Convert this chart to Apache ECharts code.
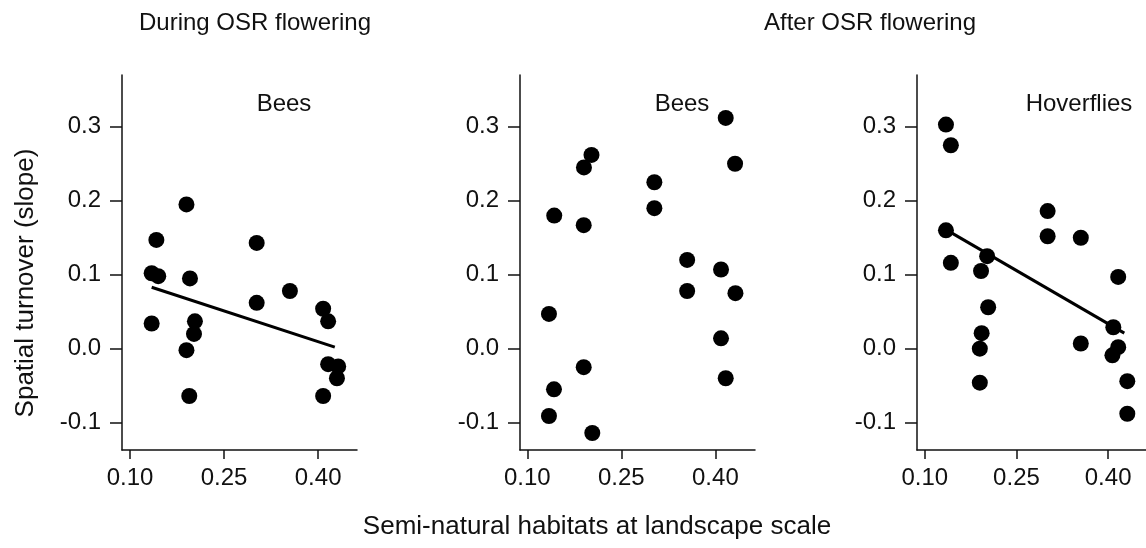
<!DOCTYPE html>
<html>
<head>
<meta charset="utf-8">
<script src="https://cdn.jsdelivr.net/npm/echarts@6/dist/echarts.min.js"></script>
<style>
html,body{margin:0;padding:0;background:#fff;}
#chart{width:1146px;height:548px;}
</style>
</head>
<body>
<div id="chart"></div>
<script>
// ---- Data ----
const xTicks = [0.10, 0.25, 0.40];
const yTicks = [-0.1, 0.0, 0.1, 0.2, 0.3];

const groupTitles = ["During OSR flowering", "After OSR flowering"];
const panelLabels = ["Bees", "Bees", "Hoverflies"];
const xTitle = "Semi-natural habitats at landscape scale";
const yTitle = "Spatial turnover (slope)";

// Panel 1: During OSR flowering, Bees
const duringBeesX = [0.190, 0.142, 0.1345, 0.145, 0.1345, 0.1956, 0.2035, 0.202, 0.190, 0.1945, 0.302, 0.302, 0.355, 0.408, 0.416, 0.416, 0.432, 0.430, 0.408];
const duringBeesY = [0.195, 0.147, 0.102, 0.098, 0.034, 0.095, 0.037, 0.020, -0.002, -0.064, 0.143, 0.062, 0.078, 0.054, 0.037, -0.021, -0.024, -0.040, -0.064];
const duringBeesFitX = [0.1345, 0.4266];
const duringBeesFitY = [0.083, 0.002];

// Panel 2: After OSR flowering, Bees
const afterBeesX = [0.4165, 0.4314, 0.2024, 0.1904, 0.143, 0.190, 0.3027, 0.3027, 0.355, 0.355, 0.409, 0.432, 0.409, 0.4165, 0.1346, 0.190, 0.1426, 0.1346, 0.2037];
const afterBeesY = [0.312, 0.250, 0.262, 0.245, 0.180, 0.167, 0.225, 0.190, 0.120, 0.078, 0.107, 0.075, 0.014, -0.040, 0.047, -0.025, -0.055, -0.091, -0.114];

// Panel 3: After OSR flowering, Hoverflies
const afterHoverX = [0.1346, 0.1426, 0.1346, 0.1426, 0.192, 0.202, 0.2037, 0.193, 0.190, 0.190, 0.301, 0.301, 0.3553, 0.3553, 0.4165, 0.4085, 0.4165, 0.407, 0.4314, 0.4314];
const afterHoverY = [0.303, 0.275, 0.160, 0.116, 0.105, 0.125, 0.056, 0.021, 0.000, -0.046, 0.186, 0.152, 0.150, 0.007, 0.097, 0.029, 0.002, -0.009, -0.044, -0.088];
const afterHoverFitX = [0.1346, 0.4265];
const afterHoverFitY = [0.161, 0.021];

// ---- Build ----
const FONT = "Liberation Sans, Arial, sans-serif";
const INK = "#111";
const zip = (xs, ys) => xs.map((x, i) => [x, ys[i]]);

const grids = [
  {left: 122, top: 75, width: 235, height: 375},
  {left: 520, top: 75, width: 235, height: 375},
  {left: 917, top: 75, width: 235, height: 375}
];
const xRanges = [[0.0872, 0.462], [0.0884, 0.4632], [0.0872, 0.462]];

const xAxes = grids.map((g, i) => ({
  type: 'value', gridIndex: i, min: xRanges[i][0], max: xRanges[i][1],
  splitLine: {show: false},
  axisLine: {show: true, onZero: false, lineStyle: {color: INK, width: 1.5}},
  axisTick: {show: true, length: 9, customValues: xTicks, lineStyle: {color: INK, width: 1.5}},
  axisLabel: {customValues: xTicks, margin: 16, color: INK, fontFamily: FONT, fontSize: 24,
    formatter: v => v.toFixed(2)}
}));
const yAxes = grids.map((g, i) => ({
  type: 'value', gridIndex: i, min: -0.137, max: 0.37,
  splitLine: {show: false},
  axisLine: {show: true, onZero: false, lineStyle: {color: INK, width: 1.5}},
  axisTick: {show: true, length: 12, customValues: yTicks, lineStyle: {color: INK, width: 1.5}},
  axisLabel: {customValues: yTicks, margin: 21, color: INK, fontFamily: FONT, fontSize: 24,
    formatter: v => v.toFixed(1)}
}));

const scatter = (xs, ys, i) => ({
  type: 'scatter', xAxisIndex: i, yAxisIndex: i, data: zip(xs, ys),
  symbol: 'circle', symbolSize: 16, itemStyle: {color: '#000', opacity: 1}, z: 3, silent: true
});
const fit = (xs, ys, i) => ({
  type: 'line', xAxisIndex: i, yAxisIndex: i, data: zip(xs, ys),
  symbol: 'none', lineStyle: {color: '#000', width: 3}, z: 2, silent: true
});

const texts = [
  {text: groupTitles[0], x: 255, y: 23, size: 24},
  {text: groupTitles[1], x: 870, y: 23, size: 24},
  {text: panelLabels[0], x: 284, y: 104, size: 24},
  {text: panelLabels[1], x: 682, y: 104, size: 24},
  {text: panelLabels[2], x: 1079, y: 104, size: 24},
  {text: xTitle, x: 597, y: 527, size: 26}
].map(t => ({
  type: 'text', x: t.x, y: t.y,
  style: {text: t.text, fill: INK, font: t.size + 'px ' + FONT, align: 'center', verticalAlign: 'middle'}
}));
texts.push({
  type: 'text', x: 26, y: 283, rotation: Math.PI / 2,
  style: {text: yTitle, fill: INK, font: '26px ' + FONT, align: 'center', verticalAlign: 'middle'}
});

const chart = echarts.init(document.getElementById('chart'));
chart.setOption({
  animation: false,
  backgroundColor: '#fff',
  grid: grids,
  xAxis: xAxes,
  yAxis: yAxes,
  series: [
    fit(duringBeesFitX, duringBeesFitY, 0),
    scatter(duringBeesX, duringBeesY, 0),
    scatter(afterBeesX, afterBeesY, 1),
    fit(afterHoverFitX, afterHoverFitY, 2),
    scatter(afterHoverX, afterHoverY, 2)
  ],
  graphic: texts
});
</script>
</body>
</html>
